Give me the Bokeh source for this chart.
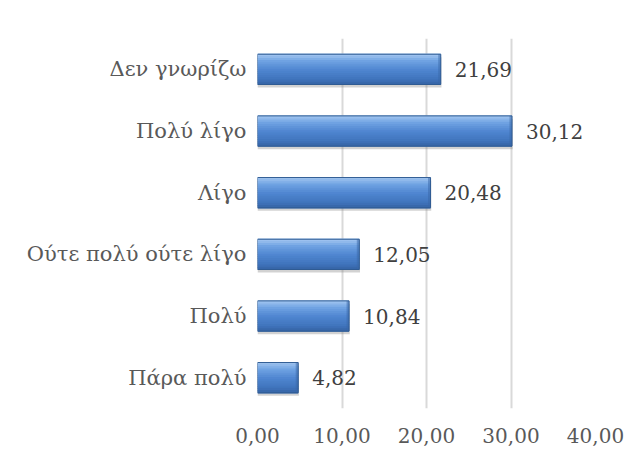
from bokeh.plotting import figure
from bokeh.models import Range1d, FixedTicker, ColumnDataSource, Label
from bokeh.core.properties import value
from bokeh.embed import file_html
from bokeh.resources import INLINE

# ---- data (bottom to top) ----
categories = ["Πάρα πολύ", "Πολύ", "Ούτε πολύ ούτε λίγο", "Λίγο", "Πολύ λίγο", "Δεν γνωρίζω"]
values = [4.82, 10.84, 12.05, 20.48, 30.12, 21.69]
x_ticks = [0, 10, 20, 30, 40]
x_tick_labels = ["0,00", "10,00", "20,00", "30,00", "40,00"]

positions = list(range(len(categories)))
value_labels = [f"{v:.2f}".replace(".", ",") for v in values]

FONT = "DejaVu Serif"
AXIS_COLOR = "#595959"
GRID = "#d9d9d9"
W, Hgt = 634, 453

p = figure(width=W, height=Hgt, output_backend="svg", toolbar_location=None,
           x_range=Range1d(0, 40), y_range=Range1d(-0.5, len(categories) - 0.5),
           min_border_left=257, min_border_right=W - 595, min_border_top=38,
           min_border_bottom=Hgt - 408)
p.outline_line_color = None
p.background_fill_color = "white"
p.border_fill_color = "white"

# outer chart border (top and left)
p.add_layout(Label(x=7, y=9, x_units="canvas", y_units="canvas", text="x", text_alpha=0,
                   text_font_size="10px", text_align="left", text_baseline="top",
                   padding=(0, 900, 700, 0),
                   border_line_color=GRID, border_line_width=2, border_line_alpha=1,
                   background_fill_color=None))

# grid
p.xgrid.ticker = FixedTicker(ticks=x_ticks)
p.xgrid.grid_line_color = GRID
p.xgrid.grid_line_width = 2
p.ygrid.grid_line_color = None

# axes
p.xaxis.ticker = FixedTicker(ticks=x_ticks)
p.xaxis.major_label_overrides = {t: l for t, l in zip(x_ticks, x_tick_labels)}
p.yaxis.ticker = FixedTicker(ticks=positions)
p.yaxis.major_label_overrides = {i: c for i, c in zip(positions, categories)}
for ax in (p.xaxis[0], p.yaxis[0]):
    ax.axis_line_color = None
    ax.major_tick_line_color = None
    ax.minor_tick_line_color = None
    ax.major_label_text_font = FONT
    ax.major_label_text_color = AXIS_COLOR
p.xaxis.major_label_text_font_size = "20px"
p.yaxis.major_label_text_font_size = "21px"
p.xaxis.major_label_standoff = 13
p.yaxis.major_label_standoff = 5

# bars
H = 0.49
src = ColumnDataSource(dict(y=positions, v=values, lab=value_labels))

# shadow
p.hbar(y=[y - 0.05 for y in positions], left=0, right=[v + 0.08 for v in values], height=H,
       fill_color="#7f7f7f", fill_alpha=0.35, line_color=None)

# gradient strips (top light -> bottom darker)
stops = [(0.0, (0xa8, 0xcb, 0xf2)), (0.25, (0x6f, 0xa2, 0xe2)), (0.55, (0x4e, 0x85, 0xd0)),
         (0.85, (0x40, 0x74, 0xbc)), (1.0, (0x36, 0x64, 0xa6))]

def col(t):
    for (t0, c0), (t1, c1) in zip(stops[:-1], stops[1:]):
        if t0 <= t <= t1:
            f = (t - t0) / (t1 - t0) if t1 > t0 else 0
            return "#%02x%02x%02x" % tuple(int(round(a + (b - a) * f)) for a, b in zip(c0, c1))
    return "#%02x%02x%02x" % stops[-1][1]

N = 14
sh = H / N
for k in range(N):
    t = (k + 0.5) / N
    off = H / 2 - (k + 0.5) * sh
    p.hbar(y=[y + off for y in positions], left=0, right=values, height=sh * 1.6,
           fill_color=col(t), line_color=None)

# right end bevel (darker)
p.hbar(y=positions, left=[v - 0.3 for v in values], right=values, height=H,
       fill_color="#3a68a8", fill_alpha=0.5, line_color=None)
# outline
p.hbar(y=positions, left=0, right=values, height=H, fill_color=None,
       line_color="#2f5b92", line_width=1)

# value labels
p.text(x="v", y="y", text="lab", source=src, x_offset=14, text_align="left",
       text_baseline="middle", text_font=value(FONT), text_font_size="20px",
       text_color="#404040")

open("out.html", "w").write(file_html(p, INLINE))
